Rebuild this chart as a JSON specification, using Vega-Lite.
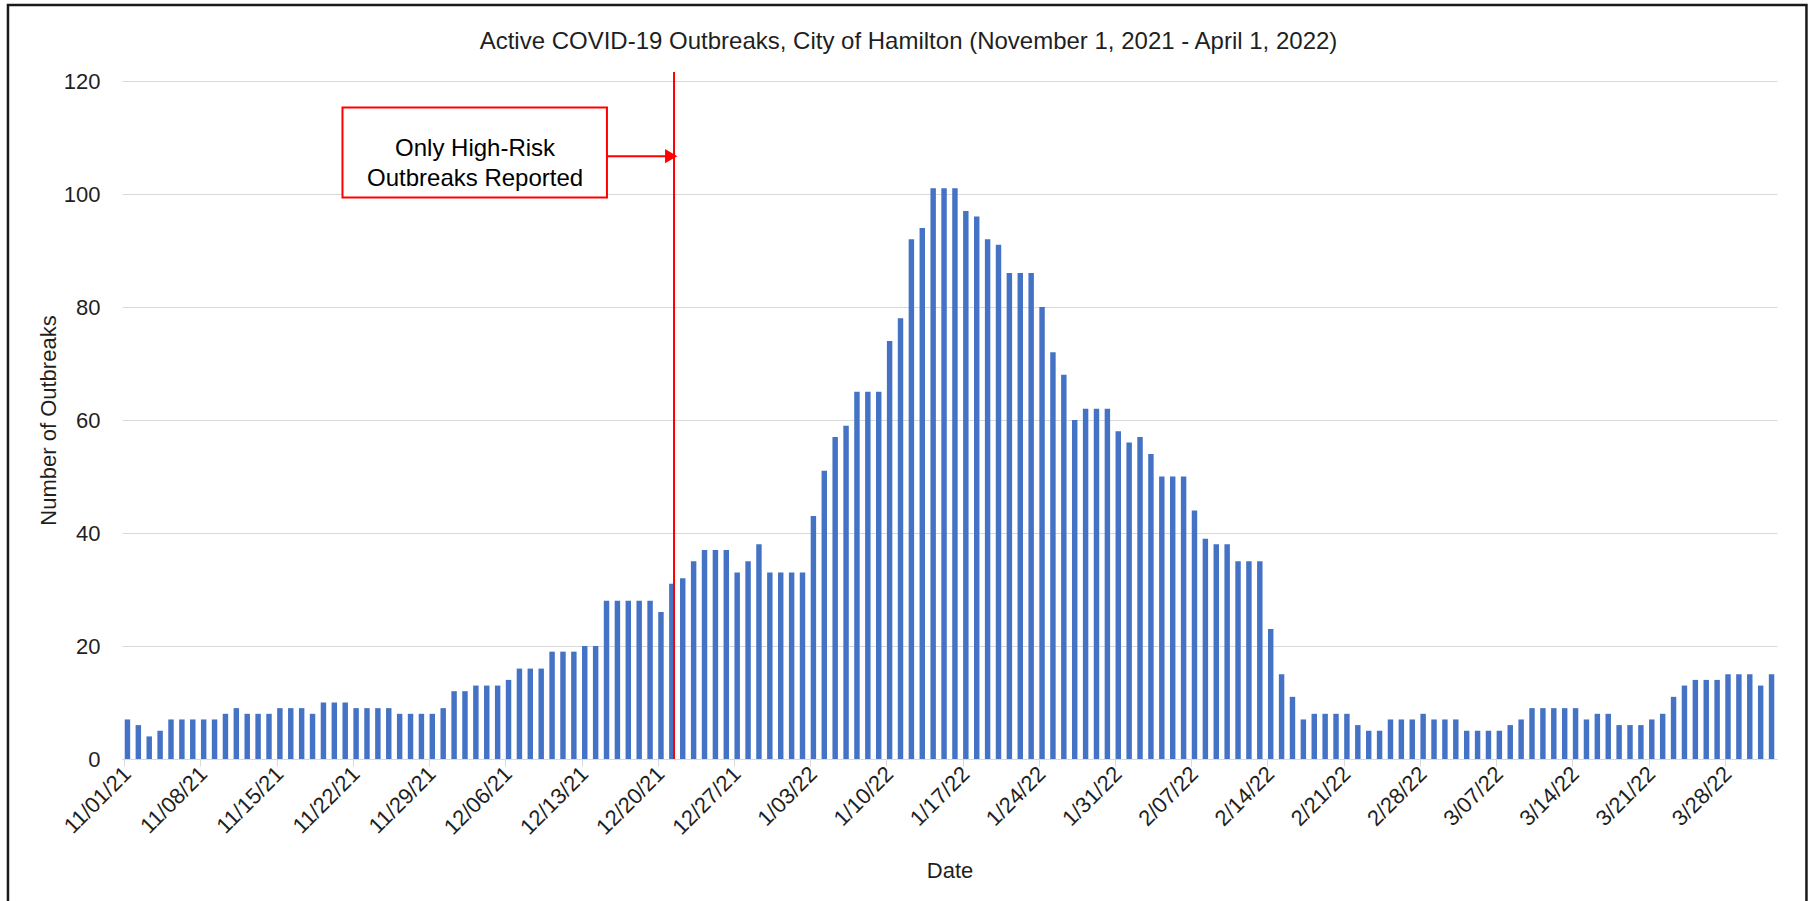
{
  "$schema": "https://vega.github.io/schema/vega-lite/v6.json",
  "width": 1655,
  "height": 678,
  "autosize": "none",
  "padding": {"left": 122, "top": 81, "right": 35, "bottom": 142},
  "background": "white",
  "title": {
    "text": "Active COVID-19 Outbreaks, City of Hamilton (November 1, 2021 - April 1, 2022)",
    "fontSize": 24, "fontWeight": "normal", "font": "Liberation Sans",
    "anchor": "middle", "frame": "group", "dx": -41, "offset": -50, "color": "#1f1f1f"
  },
  "config": {
    "font": "Liberation Sans",
    "view": {"stroke": null}
  },
  "datasets": {
    "outbreaks": [
      {"d": "11/01/21", "n": 7}, {"d": "11/02/21", "n": 6}, {"d": "11/03/21", "n": 4}, {"d": "11/04/21", "n": 5}, {"d": "11/05/21", "n": 7}, {"d": "11/06/21", "n": 7}, {"d": "11/07/21", "n": 7},
      {"d": "11/08/21", "n": 7}, {"d": "11/09/21", "n": 7}, {"d": "11/10/21", "n": 8}, {"d": "11/11/21", "n": 9}, {"d": "11/12/21", "n": 8}, {"d": "11/13/21", "n": 8}, {"d": "11/14/21", "n": 8},
      {"d": "11/15/21", "n": 9}, {"d": "11/16/21", "n": 9}, {"d": "11/17/21", "n": 9}, {"d": "11/18/21", "n": 8}, {"d": "11/19/21", "n": 10}, {"d": "11/20/21", "n": 10}, {"d": "11/21/21", "n": 10},
      {"d": "11/22/21", "n": 9}, {"d": "11/23/21", "n": 9}, {"d": "11/24/21", "n": 9}, {"d": "11/25/21", "n": 9}, {"d": "11/26/21", "n": 8}, {"d": "11/27/21", "n": 8}, {"d": "11/28/21", "n": 8},
      {"d": "11/29/21", "n": 8}, {"d": "11/30/21", "n": 9}, {"d": "12/01/21", "n": 12}, {"d": "12/02/21", "n": 12}, {"d": "12/03/21", "n": 13}, {"d": "12/04/21", "n": 13}, {"d": "12/05/21", "n": 13},
      {"d": "12/06/21", "n": 14}, {"d": "12/07/21", "n": 16}, {"d": "12/08/21", "n": 16}, {"d": "12/09/21", "n": 16}, {"d": "12/10/21", "n": 19}, {"d": "12/11/21", "n": 19}, {"d": "12/12/21", "n": 19},
      {"d": "12/13/21", "n": 20}, {"d": "12/14/21", "n": 20}, {"d": "12/15/21", "n": 28}, {"d": "12/16/21", "n": 28}, {"d": "12/17/21", "n": 28}, {"d": "12/18/21", "n": 28}, {"d": "12/19/21", "n": 28},
      {"d": "12/20/21", "n": 26}, {"d": "12/21/21", "n": 31}, {"d": "12/22/21", "n": 32}, {"d": "12/23/21", "n": 35}, {"d": "12/24/21", "n": 37}, {"d": "12/25/21", "n": 37}, {"d": "12/26/21", "n": 37},
      {"d": "12/27/21", "n": 33}, {"d": "12/28/21", "n": 35}, {"d": "12/29/21", "n": 38}, {"d": "12/30/21", "n": 33}, {"d": "12/31/21", "n": 33}, {"d": "1/01/22", "n": 33}, {"d": "1/02/22", "n": 33},
      {"d": "1/03/22", "n": 43}, {"d": "1/04/22", "n": 51}, {"d": "1/05/22", "n": 57}, {"d": "1/06/22", "n": 59}, {"d": "1/07/22", "n": 65}, {"d": "1/08/22", "n": 65}, {"d": "1/09/22", "n": 65},
      {"d": "1/10/22", "n": 74}, {"d": "1/11/22", "n": 78}, {"d": "1/12/22", "n": 92}, {"d": "1/13/22", "n": 94}, {"d": "1/14/22", "n": 101}, {"d": "1/15/22", "n": 101}, {"d": "1/16/22", "n": 101},
      {"d": "1/17/22", "n": 97}, {"d": "1/18/22", "n": 96}, {"d": "1/19/22", "n": 92}, {"d": "1/20/22", "n": 91}, {"d": "1/21/22", "n": 86}, {"d": "1/22/22", "n": 86}, {"d": "1/23/22", "n": 86},
      {"d": "1/24/22", "n": 80}, {"d": "1/25/22", "n": 72}, {"d": "1/26/22", "n": 68}, {"d": "1/27/22", "n": 60}, {"d": "1/28/22", "n": 62}, {"d": "1/29/22", "n": 62}, {"d": "1/30/22", "n": 62},
      {"d": "1/31/22", "n": 58}, {"d": "2/01/22", "n": 56}, {"d": "2/02/22", "n": 57}, {"d": "2/03/22", "n": 54}, {"d": "2/04/22", "n": 50}, {"d": "2/05/22", "n": 50}, {"d": "2/06/22", "n": 50},
      {"d": "2/07/22", "n": 44}, {"d": "2/08/22", "n": 39}, {"d": "2/09/22", "n": 38}, {"d": "2/10/22", "n": 38}, {"d": "2/11/22", "n": 35}, {"d": "2/12/22", "n": 35}, {"d": "2/13/22", "n": 35},
      {"d": "2/14/22", "n": 23}, {"d": "2/15/22", "n": 15}, {"d": "2/16/22", "n": 11}, {"d": "2/17/22", "n": 7}, {"d": "2/18/22", "n": 8}, {"d": "2/19/22", "n": 8}, {"d": "2/20/22", "n": 8},
      {"d": "2/21/22", "n": 8}, {"d": "2/22/22", "n": 6}, {"d": "2/23/22", "n": 5}, {"d": "2/24/22", "n": 5}, {"d": "2/25/22", "n": 7}, {"d": "2/26/22", "n": 7}, {"d": "2/27/22", "n": 7},
      {"d": "2/28/22", "n": 8}, {"d": "3/01/22", "n": 7}, {"d": "3/02/22", "n": 7}, {"d": "3/03/22", "n": 7}, {"d": "3/04/22", "n": 5}, {"d": "3/05/22", "n": 5}, {"d": "3/06/22", "n": 5},
      {"d": "3/07/22", "n": 5}, {"d": "3/08/22", "n": 6}, {"d": "3/09/22", "n": 7}, {"d": "3/10/22", "n": 9}, {"d": "3/11/22", "n": 9}, {"d": "3/12/22", "n": 9}, {"d": "3/13/22", "n": 9},
      {"d": "3/14/22", "n": 9}, {"d": "3/15/22", "n": 7}, {"d": "3/16/22", "n": 8}, {"d": "3/17/22", "n": 8}, {"d": "3/18/22", "n": 6}, {"d": "3/19/22", "n": 6}, {"d": "3/20/22", "n": 6},
      {"d": "3/21/22", "n": 7}, {"d": "3/22/22", "n": 8}, {"d": "3/23/22", "n": 11}, {"d": "3/24/22", "n": 13}, {"d": "3/25/22", "n": 14}, {"d": "3/26/22", "n": 14}, {"d": "3/27/22", "n": 14},
      {"d": "3/28/22", "n": 15}, {"d": "3/29/22", "n": 15}, {"d": "3/30/22", "n": 15}, {"d": "3/31/22", "n": 13}, {"d": "4/01/22", "n": 15}
    ],
    "note": [{"label": "Only High-Risk Outbreaks Reported"}]
  },
  "layer": [
    {
      "layer": [
        {
          "data": {"name": "outbreaks"},
          "mark": {"type": "bar", "color": "#4472C4"},
          "encoding": {
            "x": {
              "field": "d", "type": "ordinal", "sort": null,
              "scale": {"paddingInner": 0.5, "paddingOuter": 0.25},
              "axis": {
                "title": "Date",
                "values": ["11/01/21", "11/08/21", "11/15/21", "11/22/21", "11/29/21", "12/06/21", "12/13/21", "12/20/21", "12/27/21", "1/03/22", "1/10/22", "1/17/22", "1/24/22", "1/31/22", "2/07/22", "2/14/22", "2/21/22", "2/28/22", "3/07/22", "3/14/22", "3/21/22", "3/28/22"],
                "bandPosition": 0,
                "labelAngle": -45, "labelAlign": "right", "labelBaseline": "middle",
                "labelFontSize": 22, "labelColor": "#1f1f1f", "labelPadding": 4, "labelOverlap": false,
                "tickSize": 7, "tickColor": "#d9d9d9", "domainColor": "#d9d9d9", "grid": false,
                "titleFontSize": 22, "titleFontWeight": "normal", "titleColor": "#1f1f1f", "titlePadding": 22
              }
            },
            "y": {
              "field": "n", "type": "quantitative",
              "scale": {"domain": [0, 120], "nice": false},
              "axis": {
                "title": "Number of Outbreaks",
                "values": [0, 20, 40, 60, 80, 100, 120],
                "grid": true, "gridColor": "#d9d9d9", "domain": false, "ticks": false,
                "labelFontSize": 22, "labelColor": "#1f1f1f", "labelPadding": 22,
                "titleFontSize": 22, "titleFontWeight": "normal", "titleColor": "#1f1f1f", "titlePadding": 3
              }
            }
          }
        },
        {
          "data": {"name": "note"},
          "mark": {"type": "rule", "color": "#FF0000", "strokeWidth": 2},
          "encoding": {
            "x": {"datum": "12/21/21", "type": "ordinal", "bandPosition": 0.9},
            "y": {"datum": 121.6, "type": "quantitative"},
            "y2": {"datum": 0}
          }
        },
        {
          "data": {"name": "note"},
          "mark": {"type": "rect", "fill": "white", "stroke": "#FF0000", "strokeWidth": 2},
          "encoding": {
            "x": {"datum": "11/21/21", "type": "ordinal", "bandPosition": 0},
            "x2": {"datum": "12/15/21", "bandPosition": 0.58},
            "y": {"datum": 115.3, "type": "quantitative"},
            "y2": {"datum": 99.4}
          }
        },
        {
          "data": {"name": "note"},
          "mark": {"type": "text", "text": ["Only High-Risk", "Outbreaks Reported"], "fontSize": 24, "lineHeight": 30, "align": "center", "baseline": "middle", "color": "#000000"},
          "encoding": {
            "x": {"datum": "12/03/21", "type": "ordinal", "bandPosition": 0.36},
            "y": {"datum": 107.9, "type": "quantitative"}
          }
        },
        {
          "data": {"name": "note"},
          "mark": {"type": "rule", "color": "#FF0000", "strokeWidth": 2},
          "encoding": {
            "x": {"datum": "12/15/21", "type": "ordinal", "bandPosition": 0.58},
            "x2": {"datum": "12/21/21", "bandPosition": 0.4},
            "y": {"datum": 106.7, "type": "quantitative"}
          }
        },
        {
          "data": {"name": "note"},
          "mark": {"type": "point", "shape": "triangle-right", "filled": true, "size": 200, "color": "#FF0000", "opacity": 1},
          "encoding": {
            "x": {"datum": "12/21/21", "type": "ordinal", "bandPosition": 0.38},
            "y": {"datum": 106.7, "type": "quantitative"}
          }
        }
      ]
    },
    {
      "data": {"name": "note"},
      "mark": {"type": "rect", "fill": null, "stroke": "#1a1a1a", "strokeWidth": 2.5},
      "encoding": {
        "x": {"datum": -0.0689, "type": "quantitative", "scale": {"domain": [0, 1]}, "axis": null},
        "x2": {"datum": 1.0178},
        "y": {"datum": 133.45, "type": "quantitative"},
        "y2": {"datum": -27}
      }
    }
  ],
  "resolve": {"scale": {"x": "independent"}}
}
